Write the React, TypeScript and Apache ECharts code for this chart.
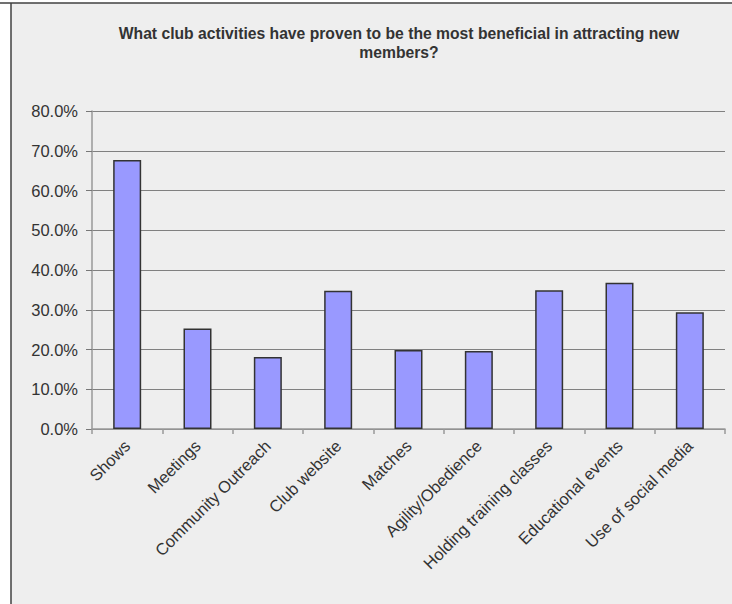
import React, { useEffect, useRef } from "react";
import * as echarts from "echarts";

const titleText =
  "What club activities have proven to be the most beneficial in attracting new\nmembers?";
const categories = [
  "Shows",
  "Meetings",
  "Community Outreach",
  "Club website",
  "Matches",
  "Agility/Obedience",
  "Holding training classes",
  "Educational events",
  "Use of social media",
];
const values = [67.7, 25.3, 18.1, 34.8, 19.9, 19.6, 34.9, 36.8, 29.4];
const yMin = 0;
const yMax = 80;
const yStep = 10;

export default function App() {
  const ref = useRef<HTMLDivElement>(null);
  useEffect(() => {
    document.body.style.margin = "0";
    const chart = echarts.init(ref.current!, undefined, { renderer: "svg" });
    chart.setOption({
      animation: false,
      backgroundColor: "#ffffff",
      textStyle: { fontFamily: "Liberation Sans, Arial, sans-serif" },
      graphic: [
        {
          type: "rect",
          shape: { x: 11, y: 3, width: 721, height: 601 },
          style: { fill: "#eeeeee" },
          z: -10,
          silent: true,
        },
        {
          type: "line",
          shape: { x1: 0, y1: 3, x2: 732, y2: 3 },
          style: { stroke: "#404040", lineWidth: 1.5 },
          silent: true,
        },
        {
          type: "line",
          shape: { x1: 11, y1: 3, x2: 11, y2: 604 },
          style: { stroke: "#404040", lineWidth: 1.5 },
          silent: true,
        },
      ],
      title: {
        text: titleText,
        left: 394,
        top: 19,
        textAlign: "center",
        textStyle: {
          fontSize: 15.7,
          fontWeight: "bold",
          color: "#333333",
          lineHeight: 19,
          fontFamily: "Liberation Sans, Arial, sans-serif",
        },
      },
      grid: { left: 92, right: 7, top: 111, bottom: 175, containLabel: false },
      xAxis: {
        type: "category",
        data: categories,
        boundaryGap: true,
        axisLine: { show: true, lineStyle: { color: "#999999", width: 1.5 } },
        axisTick: {
          show: true,
          alignWithLabel: false,
          interval: 0,
          length: 5,
          lineStyle: { color: "#999999", width: 1.5 },
        },
        axisLabel: {
          interval: 0,
          rotate: 45,
          margin: 14,
          fontSize: 16.5,
          color: "#333333",
          fontFamily: "Liberation Sans, Arial, sans-serif",
        },
      },
      yAxis: {
        type: "value",
        min: yMin,
        max: yMax,
        interval: yStep,
        axisLine: { show: true, lineStyle: { color: "#999999", width: 1.5 } },
        axisTick: { show: true, length: 6, lineStyle: { color: "#777777" } },
        axisLabel: {
          formatter: (v: number) => v.toFixed(1) + "%",
          fontSize: 16.5,
          margin: 14,
          color: "#333333",
          fontFamily: "Liberation Sans, Arial, sans-serif",
        },
        splitLine: { show: true, lineStyle: { color: "#808080", width: 1.2 } },
      },
      series: [
        {
          type: "bar",
          data: values,
          barWidth: 28,
          itemStyle: {
            color: "#9999ff",
            borderColor: "#333333",
            borderWidth: 1.5,
          },
        },
      ],
    });
    return () => chart.dispose();
  }, []);
  return (
    <div
      ref={ref}
      style={{ position: "absolute", left: 0, top: 0, width: 732, height: 604 }}
    />
  );
}
